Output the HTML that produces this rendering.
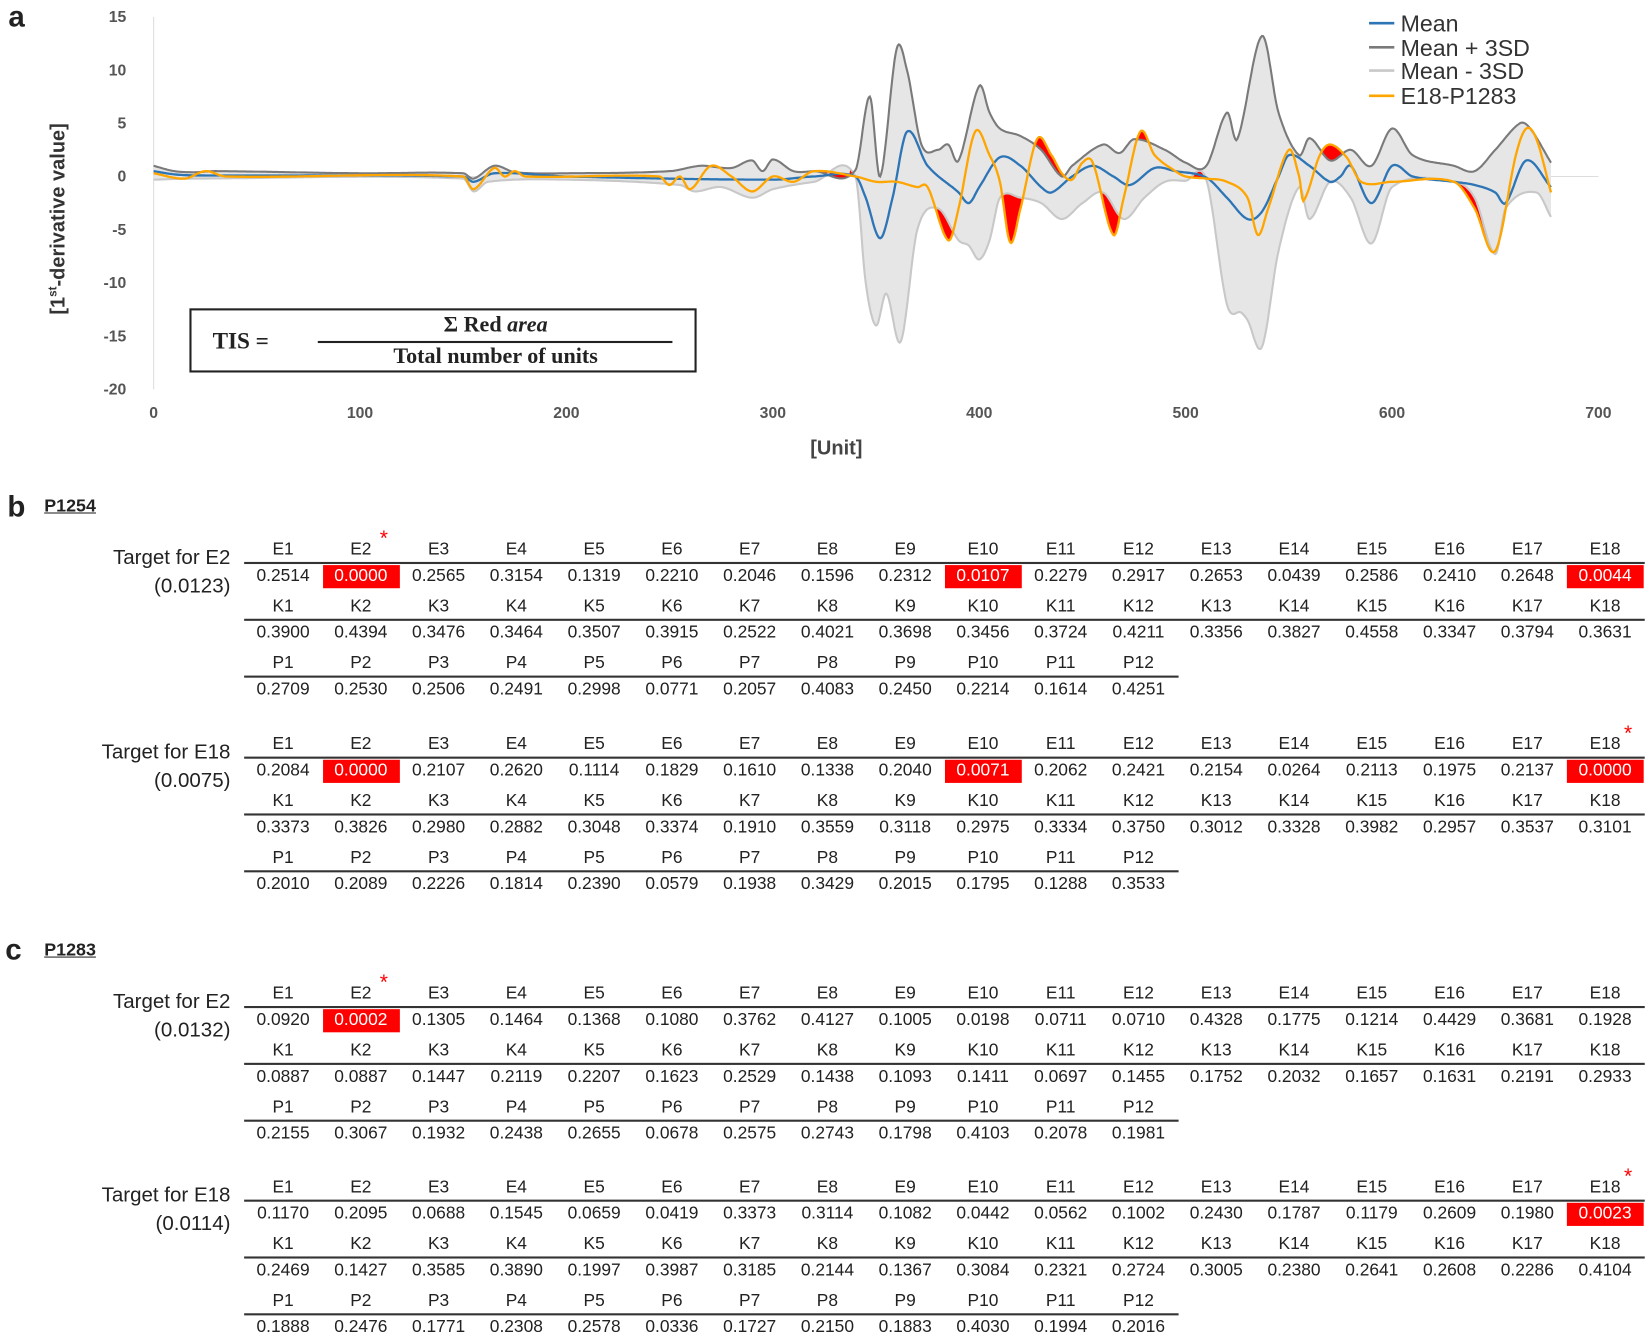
<!DOCTYPE html>
<html><head><meta charset="utf-8">
<style>
html,body{margin:0;padding:0;background:#fff;width:1650px;height:1341px;overflow:hidden}
#w{position:absolute;left:0;top:0;width:1568px;height:1274px;transform:scale(1.05230);transform-origin:0 0;font-family:"Liberation Sans",sans-serif;color:#222}
.a{position:absolute;white-space:nowrap}
.c{position:absolute;width:74px;text-align:center;font-size:16.5px;white-space:nowrap}
.ln{position:absolute;height:2px;background:#333}
.red{position:absolute;background:#f00}
</style></head><body>
<div id="w">
<svg id="ch" width="1568" height="450" style="position:absolute;left:0;top:0" font-family="Liberation Sans, sans-serif"></svg>
<div class="a" style="left:8px;top:0px;font-size:28px;font-weight:bold">a</div>
<div class="a" style="left:56px;top:208px;transform:translate(-50%,-50%) rotate(-90deg);font-size:19px;color:#333;font-weight:bold">[1<sup style="font-size:11px">st</sup>-derivative value]</div>
<div class="a" style="left:770px;top:416px;font-size:19px;font-weight:bold;color:#444">[Unit]</div>
<div class="a" style="left:180px;top:293px;width:478px;height:57px;border:2px solid #222;"></div>
<div class="a" style="left:202px;top:311px;font-family:'Liberation Serif',serif;font-weight:bold;font-size:22px">TIS =</div>
<div class="a" style="left:304px;top:296px;width:334px;text-align:center;font-family:'Liberation Serif',serif;font-weight:bold;font-size:21px">Σ Red <i>area</i></div>
<div class="a" style="left:302px;top:324px;width:337px;height:2px;background:#222"></div>
<div class="a" style="left:304px;top:326px;width:334px;text-align:center;font-family:'Liberation Serif',serif;font-weight:bold;font-size:21px">Total number of units</div>
<div id="tb"></div>
</div>
<script>
var svg=document.getElementById('ch');var h='';
function X(u){return 146+u*1.9614}function Y(v){return 167.7-v*10.114}
[15,10,5,0,-5,-10,-15,-20].forEach(function(v){h+='<text x="120" y="'+(Y(v)+5)+'" text-anchor="end" font-size="15" font-weight="bold" fill="#555">'+v+'</text>'});
for(var u=0;u<=700;u+=100)h+='<text x="'+X(u)+'" y="397" text-anchor="middle" font-size="15" font-weight="bold" fill="#555">'+u+'</text>';
h+='<line x1="146" y1="16" x2="146" y2="370" stroke="#ddd"/><line x1="146" y1="167.7" x2="1519" y2="167.7" stroke="#ddd"/>';
var U=[[0,1],[10,0.5],[20,0.4],[30,0.5],[100,0.3],[150,0.3],[155,-0.2],[165,1],[175,0.4],[200,0.3],[250,0.5],[265,1],[280,0.8],[290,1.5],[295,0.5],[300,1.6],[310,0.5],[320,0.5],[340,0.6],[347,7.5],[352,0],[360,12],[365,10],[372,3],[380,2.5],[385,3],[390,1.5],[400,8.5],[405,6],[410,4.5],[420,3.8],[430,2.5],[440,0],[445,1],[460,3],[468,2.2],[475,3.5],[490,2.5],[500,1.3],[510,1],[520,6],[525,3.5],[537,13.2],[545,6],[555,2],[560,3.6],[570,1.5],[580,2.5],[590,1],[600,4.5],[610,2],[630,1],[640,0.5],[650,2.5],[662,5],[667,4.5],[677,1.3]];
var L=[[0,-0.3],[20,-0.2],[150,-0.2],[155,-1.4],[162,-0.5],[200,-0.3],[255,-0.8],[262,-1.4],[275,-1],[290,-2],[300,-1.2],[320,-0.5],[340,0],[345,-10],[350,-14],[355,-11],[362,-15.5],[370,-5],[380,-3],[390,-6],[395,-6.5],[400,-7.8],[405,-6],[410,-2],[420,-2],[430,-2.5],[440,-4],[450,-2.5],[460,-1.5],[470,-4],[480,-2],[490,-0.5],[500,-0.4],[510,-0.3],[520,-12],[527,-12.8],[530,-13.5],[537,-16],[545,-7],[555,-1],[560,-4],[570,-0.5],[580,-2],[590,-6.3],[600,-1],[630,-0.5],[640,-2],[650,-7.3],[655,-3],[670,-1.5],[677,-3.8]];
var M=[[0,0.5],[10,0.2],[20,0.1],[150,0],[155,-0.5],[165,0.3],[200,0],[300,-0.3],[320,0],[340,0],[345,-2],[352,-5.8],[358,-2],[365,4.2],[375,1],[390,-1.5],[395,-2.5],[400,-1],[410,1.8],[420,1],[430,-1],[435,-1.5],[445,0],[455,1],[465,0],[473,-0.8],[485,0.8],[495,0.5],[510,-0.1],[520,-2],[530,-4],[537,-3.3],[545,0],[550,2],[560,1],[570,-0.5],[575,0],[580,1],[590,-2.5],[600,1],[610,0],[630,-0.5],[640,-0.8],[650,-1.5],[655,-2.5],[665,1.5],[677,-1]];
var O=[[0,0.3],[15,-0.2],[25,0.5],[35,0],[150,0],[155,-1.2],[165,0.8],[170,0],[175,0.5],[180,0],[245,0],[250,-0.8],[255,0],[260,-1.2],[270,1],[280,0],[290,-1.4],[300,0],[310,-0.5],[320,0.5],[340,0],[350,-0.5],[360,-0.5],[370,-1],[375,-1],[385,-6],[390,-3],[398,4.2],[405,2],[410,-0.5],[415,-6.2],[420,-3],[428,3.5],[435,2],[440,0.3],[445,-0.3],[450,1.3],[455,1.3],[465,-5.5],[470,-2],[478,4.2],[485,2],[495,0.5],[500,0],[510,-0.2],[520,-0.5],[530,-2],[535,-5.5],[540,-3],[550,2.5],[555,0],[557,-2.3],[565,2],[570,3],[578,1.8],[585,-0.5],[600,-0.5],[630,-0.5],[640,-3],[650,-7],[660,2],[665,4.5],[670,3.5],[677,-1.5]];
function f(P,x){for(var i=0;i<P.length-1;i++){if(x<=P[i+1][0]){var p0=P[Math.max(i-1,0)],p1=P[i],p2=P[i+1],p3=P[Math.min(i+2,P.length-1)];var t=(x-p1[0])/(p2[0]-p1[0]);var m1=(p2[1]-p0[1])/(p2[0]-p0[0])*(p2[0]-p1[0]),m2=(p3[1]-p1[1])/(p3[0]-p1[0])*(p2[0]-p1[0]);var t2=t*t,t3=t2*t;return (2*t3-3*t2+1)*p1[1]+(t3-2*t2+t)*m1+(-2*t3+3*t2)*p2[1]+(t3-t2)*m2;}}return P[P.length-1][1];}
var xs=[];for(var x=0;x<=677;x+=0.5)xs.push(x);
function pts(P){return xs.map(function(x){return X(x).toFixed(1)+','+Y(f(P,x)).toFixed(1)}).join(' ')}
var band=xs.map(function(x){return X(x).toFixed(1)+','+Y(f(U,x)).toFixed(1)}).concat(xs.slice().reverse().map(function(x){return X(x).toFixed(1)+','+Y(f(L,x)).toFixed(1)})).join(' ');
h+='<polygon points="'+band+'" fill="#e6e6e6"/>';
var seg=[];xs.forEach(function(x){var o=f(O,x),u=f(U,x),l=f(L,x);var s=o>u?1:(o<l?-1:0);if(s){seg.push([x,o,s==1?u:l])}else if(seg.length){draw();}});
function draw(){if(seg.length>1){var p=seg.map(function(a){return X(a[0])+','+Y(a[1])}).concat(seg.slice().reverse().map(function(a){return X(a[0])+','+Y(a[2])}));h+='<polygon points="'+p.join(' ')+'" fill="#f00"/>';}seg=[];}
draw();
h+='<polyline points="'+pts(L)+'" fill="none" stroke="#c8c8c8" stroke-width="2"/>';
h+='<polyline points="'+pts(U)+'" fill="none" stroke="#7a7a7a" stroke-width="2"/>';
h+='<polyline points="'+pts(M)+'" fill="none" stroke="#2e75b6" stroke-width="2.2"/>';
h+='<polyline points="'+pts(O)+'" fill="none" stroke="#ffa500" stroke-width="2.2"/>';
var lg=[['Mean','#2e75b6',22],['Mean + 3SD','#7a7a7a',45],['Mean - 3SD','#c8c8c8',67],['E18-P1283','#ffa500',91]];
lg.forEach(function(g){h+='<line x1="1301" x2="1325" y1="'+g[2]+'" y2="'+g[2]+'" stroke="'+g[1]+'" stroke-width="2.5"/><text x="1331" y="'+(g[2]+8)+'" font-size="22" fill="#333">'+g[0]+'</text>'});
svg.innerHTML=h;
var T='';var x0=232,cw=73.9;
function block(top,lab,val,E,K,P,reds,star){
 T+='<div class="a" style="right:'+(1568-219)+'px;top:'+(top-3)+'px;font-size:19.5px;text-align:right">'+lab+'</div>';
 T+='<div class="a" style="right:'+(1568-219)+'px;top:'+(top+24)+'px;font-size:19.5px;text-align:right">('+val+')</div>';
 var rows=[['E',E],['K',K],['P',P]];
 rows.forEach(function(r,ri){var y=top+ri*54;var n=r[1].length;
  T+='<div class="ln" style="left:'+x0+'px;top:'+(y+12)+'px;width:'+(n*cw+1)+'px"></div>';
  for(var i=0;i<n;i++){var cx=x0+i*cw;
   T+='<div class="c" style="left:'+cx+'px;top:'+(y-9)+'px">'+r[0]+(i+1)+'</div>';
   var red=ri==0&&reds.indexOf(i+1)>=0;
   if(red)T+='<div class="red" style="left:'+(cx+1)+'px;top:'+(y+15)+'px;width:73px;height:22px"></div>';
   T+='<div class="c" style="left:'+cx+'px;top:'+(y+16)+'px;'+(red?'color:#fff':'')+'">'+r[1][i]+'</div>';}
 });
 var sx=x0+(star-1)*cw+55;T+='<div class="a" style="left:'+sx+'px;top:'+(top-21)+'px;color:#f00;font-size:20px">*</div>';
}
function s(a){return a.split(' ')}
T+='<div class="a" style="left:7px;top:466px;font-size:28px;font-weight:bold">b</div><div class="a" style="left:42px;top:471px;font-size:17px;font-weight:bold;text-decoration:underline">P1254</div>';
block(522,'Target for E2','0.0123',s('0.2514 0.0000 0.2565 0.3154 0.1319 0.2210 0.2046 0.1596 0.2312 0.0107 0.2279 0.2917 0.2653 0.0439 0.2586 0.2410 0.2648 0.0044'),s('0.3900 0.4394 0.3476 0.3464 0.3507 0.3915 0.2522 0.4021 0.3698 0.3456 0.3724 0.4211 0.3356 0.3827 0.4558 0.3347 0.3794 0.3631'),s('0.2709 0.2530 0.2506 0.2491 0.2998 0.0771 0.2057 0.4083 0.2450 0.2214 0.1614 0.4251'),[2,10,18],2);
block(707,'Target for E18','0.0075',s('0.2084 0.0000 0.2107 0.2620 0.1114 0.1829 0.1610 0.1338 0.2040 0.0071 0.2062 0.2421 0.2154 0.0264 0.2113 0.1975 0.2137 0.0000'),s('0.3373 0.3826 0.2980 0.2882 0.3048 0.3374 0.1910 0.3559 0.3118 0.2975 0.3334 0.3750 0.3012 0.3328 0.3982 0.2957 0.3537 0.3101'),s('0.2010 0.2089 0.2226 0.1814 0.2390 0.0579 0.1938 0.3429 0.2015 0.1795 0.1288 0.3533'),[2,10,18],18);
T+='<div class="a" style="left:5px;top:887px;font-size:28px;font-weight:bold">c</div><div class="a" style="left:42px;top:893px;font-size:17px;font-weight:bold;text-decoration:underline">P1283</div>';
block(944,'Target for E2','0.0132',s('0.0920 0.0002 0.1305 0.1464 0.1368 0.1080 0.3762 0.4127 0.1005 0.0198 0.0711 0.0710 0.4328 0.1775 0.1214 0.4429 0.3681 0.1928'),s('0.0887 0.0887 0.1447 0.2119 0.2207 0.1623 0.2529 0.1438 0.1093 0.1411 0.0697 0.1455 0.1752 0.2032 0.1657 0.1631 0.2191 0.2933'),s('0.2155 0.3067 0.1932 0.2438 0.2655 0.0678 0.2575 0.2743 0.1798 0.4103 0.2078 0.1981'),[2],2);
block(1128,'Target for E18','0.0114',s('0.1170 0.2095 0.0688 0.1545 0.0659 0.0419 0.3373 0.3114 0.1082 0.0442 0.0562 0.1002 0.2430 0.1787 0.1179 0.2609 0.1980 0.0023'),s('0.2469 0.1427 0.3585 0.3890 0.1997 0.3987 0.3185 0.2144 0.1367 0.3084 0.2321 0.2724 0.3005 0.2380 0.2641 0.2608 0.2286 0.4104'),s('0.1888 0.2476 0.1771 0.2308 0.2578 0.0336 0.1727 0.2150 0.1883 0.4030 0.1994 0.2016'),[18],18);
document.getElementById('tb').innerHTML=T;
</script>
</body></html>
